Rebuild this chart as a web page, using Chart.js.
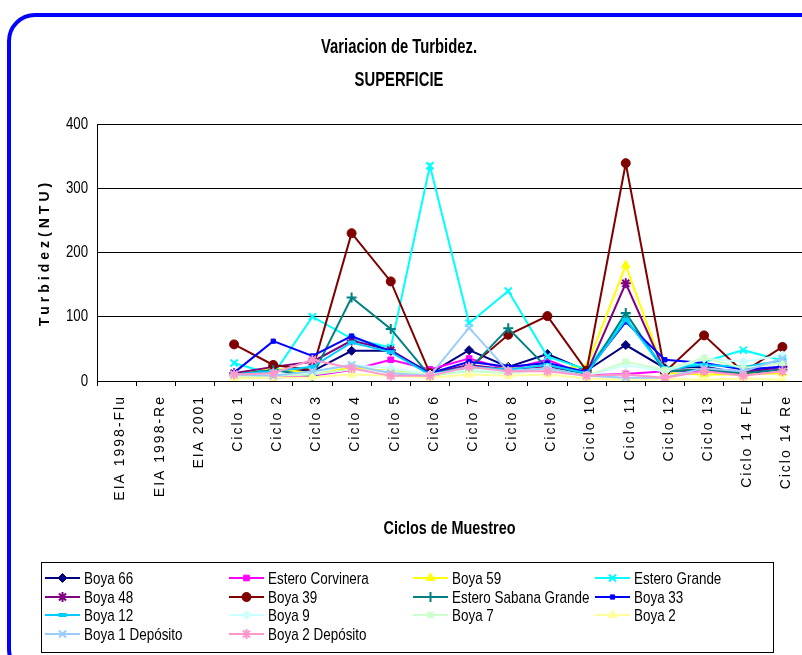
<!DOCTYPE html>
<html><head><meta charset="utf-8">
<script src="https://cdn.jsdelivr.net/npm/chart.js@4.4.0/dist/chart.umd.min.js"></script>
<style>html,body{margin:0;padding:0;background:#fff;overflow:hidden}#wrap{width:802px;height:655px;position:relative}</style>
</head><body><div id="wrap"><canvas id="c"></canvas></div>
<script>
// ---- DATA ----
const categories = ['EIA 1998-Flu','EIA 1998-Re','EIA 2001','Ciclo 1','Ciclo 2','Ciclo 3','Ciclo 4','Ciclo 5','Ciclo 6','Ciclo 7','Ciclo 8','Ciclo 9','Ciclo 10','Ciclo 11','Ciclo 12','Ciclo 13','Ciclo 14 FL','Ciclo 14 Re'];
const yTicks = [0, 100, 200, 300, 400];
const seriesNames = ['Boya 66','Estero Corvinera','Boya 59','Estero Grande','Boya 48','Boya 39','Estero Sabana Grande','Boya 33','Boya 12','Boya 9','Boya 7','Boya 2','Boya 1 Depósito','Boya 2 Depósito'];
const boya66          = [null,null,null,  8, 18, 15, 47, 47, 12, 48, 22, 42, 16, 56, 20, 22, 12, 22];
const esteroCorvinera = [null,null,null,  6,  5,  8, 17, 33, 18, 35, 18, 33,  9, 11, 15, 15, 10, 20];
const boya59          = [null,null,null, 10, 20, 12, 21, 15, 12, 20, 20, 20, 22,180, 12, 10, 10, 12];
const esteroGrande    = [null,null,null, 28, 10,100, 66, 52,335, 90,140, 38, 18, 98, 15, 30, 48, 32];
const boya48          = [null,null,null, 12, 22, 30, 63, 48, 12, 25, 18, 22, 12,152, 15, 18, 15, 22];
const boya39          = [null,null,null, 57, 25, 17,230,155, 12, 20, 72,101, 16,339, 14, 71, 14, 53];
const esteroSabana    = [null,null,null, 10, 17,  8,130, 81,  8, 18, 82, 20, 10,106, 15, 18, 12, 18];
const boya33          = [null,null,null, 13, 62, 39, 70, 46, 12, 30, 22, 28, 14, 92, 33, 28, 18, 22];
const boya12          = [null,null,null, 10, 15, 22, 60, 45, 10, 22, 18, 25, 12, 95, 20, 25, 22, 32];
const boya9           = [null,null,null,  8, 10, 12, 25, 20, 10, 18, 15, 20,  8, 25, 15, 35, 30, 40];
const boya7           = [null,null,null,  6,  8, 10, 18, 15,  8, 15, 12, 18,  8, 30, 17, 36, 20, 28];
const boya2           = [null,null,null,  4,  5,  6, 10,  8,  5, 10,  8, 10,  4,  2,  3,  2,  4,  2];
const boya1Deposito   = [null,null,null, 10,  8, 15, 25, 12,  8, 83, 15, 20,  8,  5,  5, 20, 15, 35];
const boya2Deposito   = [null,null,null, 10, 12, 33, 20,  8,  8, 22, 15, 15,  8, 10,  5, 15,  8, 15];
const seriesValues = [boya66, esteroCorvinera, boya59, esteroGrande, boya48, boya39, esteroSabana, boya33, boya12, boya9, boya7, boya2, boya1Deposito, boya2Deposito];

// ---- STYLES ----
const seriesStyles = [
  {color:'#000080', point:'rectRot', r:4.5},
  {color:'#FF00FF', point:'rect', r:4},
  {color:'#FFFF00', point:'triangle', r:5},
  {color:'#00FFFF', point:'crossRot', r:5, bw:2},
  {color:'#800080', point:'star', r:5, bw:2},
  {color:'#800000', point:'circle', r:4.5},
  {color:'#008080', point:'cross', r:5, bw:2},
  {color:'#0000FF', point:'rect', r:3},
  {color:'#00CCFF', point:'line', r:4, bw:4},
  {color:'#CCFFFF', point:'rectRot', r:4.5},
  {color:'#CCFFCC', point:'rect', r:4},
  {color:'#FFFF99', point:'triangle', r:5},
  {color:'#99CCFF', point:'crossRot', r:5, bw:2},
  {color:'#FF99CC', point:'star', r:5, bw:2}
];
const SANS = "'Liberation Sans',Arial,sans-serif";

const datasets = seriesNames.map((name, i) => {
  const s = seriesStyles[i];
  return {
    label: name, data: seriesValues[i],
    borderColor: s.color, backgroundColor: s.color,
    borderWidth: 2, tension: 0,
    pointStyle: s.point, pointRadius: s.r, pointHoverRadius: s.r,
    pointBorderWidth: s.bw || 1, pointBorderColor: s.color, pointBackgroundColor: s.color,
    order: seriesNames.length - 1 - i
  };
});

function drawMarker(ctx, s, x, y) {
  if (Chart.helpers && Chart.helpers.drawPoint) {
    ctx.save();
    ctx.strokeStyle = s.color; ctx.fillStyle = s.color; ctx.lineWidth = s.bw || 1;
    Chart.helpers.drawPoint(ctx, {pointStyle: s.point, radius: s.r, rotation: 0, borderWidth: s.bw || 1}, x, y);
    ctx.restore();
  }
}
function narrowText(ctx, text, x, y, sx) {
  ctx.save(); ctx.translate(x, y); ctx.scale(sx, 1); ctx.fillText(text, 0, 0); ctx.restore();
}

const framePlugin = {
  id: 'frame',
  beforeDraw(chart) {
    const ctx = chart.ctx;
    ctx.save();
    ctx.fillStyle = '#fff'; ctx.fillRect(0, 0, chart.width, chart.height);
    ctx.strokeStyle = '#0000FF'; ctx.lineWidth = 4;
    const x = 9, y = 15, w = 900, h = 660, r = 26;
    ctx.beginPath();
    ctx.moveTo(x + r, y); ctx.lineTo(x + w - r, y);
    ctx.arcTo(x + w, y, x + w, y + r, r); ctx.lineTo(x + w, y + h - r);
    ctx.arcTo(x + w, y + h, x + w - r, y + h, r); ctx.lineTo(x + r, y + h);
    ctx.arcTo(x, y + h, x, y + h - r, r); ctx.lineTo(x, y + r);
    ctx.arcTo(x, y, x + r, y, r); ctx.closePath(); ctx.stroke();
    ctx.restore();
    const xs = chart.scales.x, ys = chart.scales.y;
    if (!xs._sp) {
      const oL = xs.drawLabels;
      xs.drawLabels = function(a){ const c=this.ctx; c.save(); c.translate(4,0); c.letterSpacing='2px'; oL.call(this,a); c.restore(); };
      const oT = xs.drawTitle;
      xs.drawTitle = function(){ const c=this.ctx; const cx=(this.left+this.right)/2; c.save(); c.translate(cx,0); c.scale(0.8,1); c.translate(-cx,0); oT.call(this); c.restore(); };
      xs._sp = true;
    }
    if (!ys._sp) {
      const oT = ys.drawTitle;
      ys.drawTitle = function(){ const c=this.ctx; c.save(); c.translate(2,0); c.letterSpacing='4px'; oT.call(this); c.restore(); };
      const oL = ys.drawLabels;
      ys.drawLabels = function(a){ const c=this.ctx; const ax=this.right-9; c.save(); c.translate(ax,0); c.scale(0.78,1); c.translate(-ax,0); oL.call(this,a); c.restore(); };
      ys._sp = true;
    }
  },
  afterDraw(chart) {
    const ctx = chart.ctx;
    ctx.save();
    ctx.fillStyle = '#000'; ctx.textAlign = 'center'; ctx.textBaseline = 'middle';
    ctx.font = "bold 20px " + SANS;
    narrowText(ctx, 'Variacion de Turbidez.', 399, 47, 0.74);
    narrowText(ctx, 'SUPERFICIE', 399, 80, 0.74);
    // legend
    ctx.strokeStyle = '#000'; ctx.lineWidth = 1;
    ctx.strokeRect(41.5, 562.5, 732, 90);
    const cols = [45, 229, 413, 595], rows = [578, 597, 615, 634];
    ctx.font = "17px " + SANS; ctx.textAlign = 'left';
    seriesNames.forEach((name, i) => {
      const s = seriesStyles[i];
      const x0 = cols[i % 4], y0 = rows[Math.floor(i / 4)];
      ctx.strokeStyle = s.color; ctx.lineWidth = 2;
      ctx.beginPath(); ctx.moveTo(x0, y0); ctx.lineTo(x0 + 35, y0); ctx.stroke();
      drawMarker(ctx, s, x0 + 17.5, y0);
      ctx.fillStyle = '#000';
      narrowText(ctx, name, x0 + 39, y0 + 1, 0.79);
    });
    ctx.restore();
  }
};

new Chart(document.getElementById('c'), {
  type: 'line',
  data: { labels: categories, datasets },
  plugins: [framePlugin],
  options: {
    responsive: true, maintainAspectRatio: false, animation: false,
    layout: { autoPadding: false, padding: { top: 124, left: 8, right: 0, bottom: 115 } },
    plugins: { legend: { display: false }, tooltip: { enabled: false }, title: { display: false } },
    scales: {
      x: {
        type: 'category', offset: true,
        afterFit(s) { s.height = 159; s.paddingRight = 0; s.paddingLeft = 0; },
        grid: { drawOnChartArea: false, drawTicks: true, tickLength: 5, offset: true, color: '#000', tickColor: '#000' },
        border: { display: true, color: '#000', width: 1 },
        ticks: { autoSkip: false, maxRotation: 90, minRotation: 90, padding: 9, color: '#000', font: { family: SANS, size: 14 } },
        title: { display: true, text: 'Ciclos de Muestreo', color: '#000', font: { family: SANS, size: 18, weight: 'bold' }, padding: { top: 0, bottom: 0 } }
      },
      y: {
        min: 0, max: 400,
        afterFit(s) { s.width = 89; },
        afterBuildTicks(s) { s.ticks = yTicks.map(v => ({ value: v })); },
        grid: { drawTicks: false, color: '#000', lineWidth: 1 },
        border: { display: true, color: '#000', width: 1 },
        ticks: { padding: 9, color: '#000', font: { family: SANS, size: 17 } },
        title: { display: true, text: 'Turbidez(NTU)', color: '#000', font: { family: SANS, size: 14, weight: 'bold' }, padding: { top: 27, bottom: 0 } }
      }
    }
  }
});
</script></body></html>
